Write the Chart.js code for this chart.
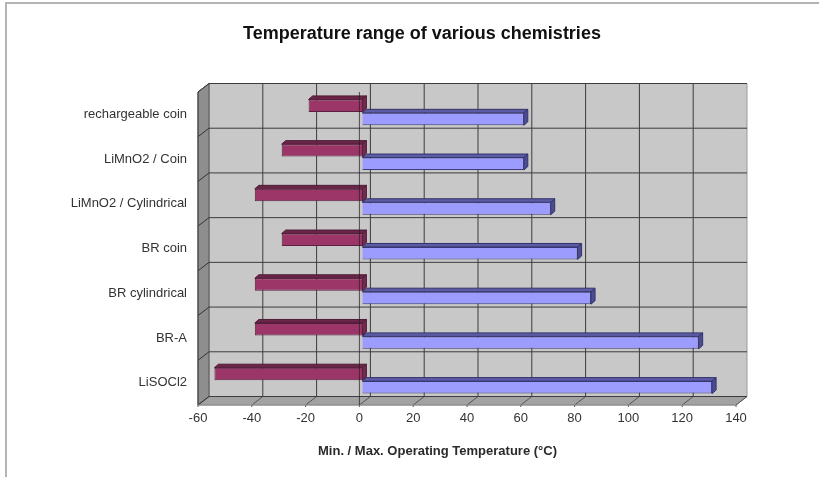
<!DOCTYPE html>
<html>
<head>
<meta charset="utf-8">
<title>Temperature range of various chemistries</title>
<script src="https://cdn.jsdelivr.net/npm/chart.js@4"></script>
<style>
    html, body { margin: 0; padding: 0; background: #fff; }
    #wrap { position: relative; width: 819px; height: 477px; overflow: hidden; }
    #frame { position: absolute; left: 5px; top: 2px; width: 820px; height: 480px;
             border-left: 2px solid #b4b4b4; border-top: 2px solid #b4b4b4; }
    canvas { position: absolute; left: 0; top: 0; filter: blur(0.5px); }
</style>
</head>
<body>
<div id="wrap">
    <div id="frame"></div>
    <canvas id="barChart" width="819" height="477"></canvas>
</div>
<script>
    // Chart data
    var categories = ["rechargeable coin", "LiMnO2 / Coin", "LiMnO2 / Cylindrical", "BR coin", "BR cylindrical", "BR-A", "LiSOCl2"];
    var minTemps = [-20, -30, -40, -30, -40, -40, -55];
    var maxTemps = [60, 60, 70, 80, 85, 125, 130];
    var chartTitle = "Temperature range of various chemistries";
    var axisTitle = "Min. / Max. Operating Temperature (°C)";

    // Depth of the walls and of the bars
    var wallDx = 11, wallDy = 8.5;
    var barShiftX = 3, barShiftY = 2, barDx = 4, barDy = 3.5;
    var fontName = '"Liberation Sans", Arial, sans-serif';

    function poly(ctx, pts, fill, stroke) {
        ctx.beginPath();
        ctx.moveTo(pts[0], pts[1]);
        for (var i = 2; i < pts.length; i += 2) {
            ctx.lineTo(pts[i], pts[i + 1]);
        }
        ctx.closePath();
        ctx.fillStyle = fill;
        ctx.fill();
        if (stroke) {
            ctx.strokeStyle = stroke;
            ctx.lineWidth = 1;
            ctx.stroke();
        }
    }

    function line(ctx, x1, y1, x2, y2, color) {
        ctx.beginPath();
        ctx.moveTo(x1, y1);
        ctx.lineTo(x2, y2);
        ctx.strokeStyle = color;
        ctx.lineWidth = 1;
        ctx.stroke();
    }

    // Excel style 3D box behind the bars
    var walls3d = {
        id: 'walls3d',
        beforeDatasetsDraw: function (chart) {
            var ctx = chart.ctx, a = chart.chartArea;
            var xs = chart.scales.x;
            var gridColor = '#3c3c3c', i, x, y;

            ctx.save();
            // back wall, left wall, floor
            poly(ctx, [a.left + wallDx, a.top - wallDy, a.right + wallDx, a.top - wallDy,
                a.right + wallDx, a.bottom - wallDy, a.left + wallDx, a.bottom - wallDy], '#c8c8c8', '#9a9a9a');
            poly(ctx, [a.left, a.top, a.left + wallDx, a.top - wallDy,
                a.left + wallDx, a.bottom - wallDy, a.left, a.bottom], '#8e8e8e', '#555555');
            poly(ctx, [a.left, a.bottom, a.left + wallDx, a.bottom - wallDy,
                a.right + wallDx, a.bottom - wallDy, a.right, a.bottom], '#a2a2a2', '#9a9a9a');

            // vertical grid on the back wall, with the ticks across the floor
            xs.ticks.forEach(function (t) {
                x = xs.getPixelForValue(t.value);
                if (t.value > xs.min && t.value < xs.max) {
                    line(ctx, x + wallDx, a.top - wallDy, x + wallDx, a.bottom - wallDy, gridColor);
                }
                line(ctx, x, a.bottom, x + wallDx, a.bottom - wallDy, '#555555');
                line(ctx, x, a.bottom, x, a.bottom + 2, '#555555');
            });

            // horizontal grid on the back wall, with the ticks across the left wall
            for (i = 0; i <= categories.length; i++) {
                y = a.top + (a.bottom - a.top) * i / categories.length;
                line(ctx, a.left + wallDx, y - wallDy, a.right + wallDx, y - wallDy, gridColor);
                line(ctx, a.left, y, a.left + wallDx, y - wallDy, '#333333');
            }
            line(ctx, a.left, a.top, a.left, a.bottom, '#444444');
            line(ctx, a.left, a.bottom, a.right, a.bottom, '#8a8a8a');

            // native bars sit a little behind the front plane
            ctx.translate(barShiftX, -barShiftY);
        },
        afterDatasetsDraw: function (chart) {
            var ctx = chart.ctx, a = chart.chartArea;
            var zero = chart.scales.x.getPixelForValue(0);
            var sides = [
                { top: '#6b2548', side: '#74294f', edge: '#4e1c35' },
                { top: '#5c5ca6', side: '#4c4c92', edge: '#33336b' }
            ];

            [1, 0].forEach(function (d) {
                chart.getDatasetMeta(d).data.forEach(function (bar) {
                    var l = Math.min(bar.x, bar.base), r = Math.max(bar.x, bar.base);
                    var t = bar.y - bar.height / 2, b = bar.y + bar.height / 2;
                    poly(ctx, [l, t, l + barDx, t - barDy, r + barDx, t - barDy, r, t], sides[d].top, sides[d].edge);
                    poly(ctx, [r, t, r + barDx, t - barDy, r + barDx, b - barDy, r, b], sides[d].side, sides[d].edge);
                });
            });
            ctx.restore();

            // zero line of the category axis, on the front plane
            ctx.save();
            line(ctx, zero, a.top, zero, a.bottom, 'rgba(40,30,40,0.75)');

            // both titles sit off the plot centre, so they are placed by hand
            ctx.textAlign = 'center';
            ctx.textBaseline = 'middle';
            ctx.fillStyle = '#111111';
            ctx.font = 'bold 18px ' + fontName;
            ctx.fillText(chartTitle, 422, 34);
            ctx.fillStyle = '#2a2a2a';
            ctx.font = 'bold 13px ' + fontName;
            ctx.fillText(axisTitle, 437.5, 451);
            ctx.restore();
        }
    };

    var BARCHART = document.getElementById('barChart');
    var myBarChart = new Chart(BARCHART, {
        type: 'bar',
        plugins: [walls3d],
        data: {
            labels: categories,
            datasets: [
                {
                    label: "Min",
                    data: minTemps,
                    backgroundColor: "#9c3668",
                    borderColor: "#5a2040",
                    borderWidth: 1,
                    categoryPercentage: 0.6,
                    barPercentage: 0.93
                },
                {
                    label: "Max",
                    data: maxTemps,
                    backgroundColor: "#9c9cff",
                    borderColor: "#3c3c7c",
                    borderWidth: 1,
                    categoryPercentage: 0.6,
                    barPercentage: 0.93
                }
            ]
        },
        options: {
            indexAxis: 'y',
            responsive: false,
            animation: false,
            layout: {
                padding: { top: 92, right: 83 }
            },
            plugins: {
                legend: { display: false },
                tooltip: { enabled: false }
            },
            scales: {
                x: {
                    min: -60,
                    max: 140,
                    ticks: {
                        stepSize: 20,
                        maxRotation: 0,
                        padding: 6,
                        color: '#333333',
                        font: { family: fontName, size: 13 }
                    },
                    grid: { display: false, drawTicks: false },
                    border: { display: false },
                    afterFit: function (scale) { scale.height = 72; }
                },
                y: {
                    ticks: {
                        padding: 11,
                        color: '#333333',
                        autoSkip: false,
                        font: { family: fontName, size: 13 }
                    },
                    grid: { display: false, drawTicks: false },
                    border: { display: false },
                    afterFit: function (scale) { scale.width = 198; }
                }
            }
        }
    });
</script>
</body>
</html>
